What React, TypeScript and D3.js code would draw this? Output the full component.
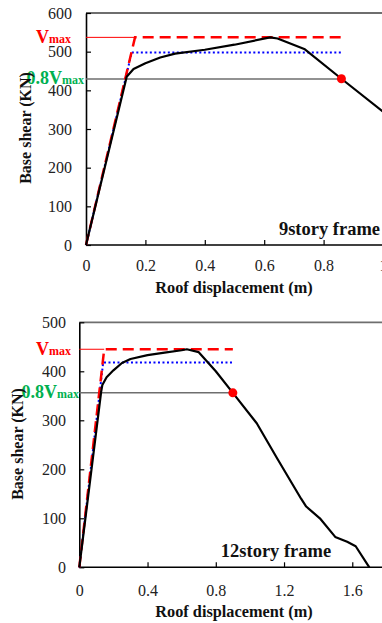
import * as d3 from "d3";
import { useEffect, useRef } from "react";

// 9 story frame
const disp9 = [0, 0.137, 0.16, 0.2, 0.25, 0.3, 0.4, 0.5, 0.62, 0.645, 0.737, 0.86, 1.0];
const shear9 = [0, 435, 455, 470, 485, 495, 505, 518, 537, 534, 506, 430, 345];
const ideal9Red = [[0, 0], [0.165, 537], [0.866, 537]];
const ideal9Blue = [[0, 0], [0.154, 498], [0.866, 498]];
const vmax9 = 537;
const point9 = [0.86, 430];

// 12 story frame
const disp12 = [0, 0.128, 0.135, 0.16, 0.2, 0.25, 0.3, 0.4, 0.5, 0.6, 0.63, 0.7, 0.8, 0.9, 1.04, 1.16, 1.3, 1.33, 1.41, 1.5, 1.57, 1.62, 1.7];
const shear12 = [0, 358, 372, 388, 402, 417, 425, 433, 438, 443, 445, 439, 400, 356, 294, 222, 140, 124, 100, 62, 52, 43, 0];
const ideal12Red = [[0, 0], [0.146, 445], [0.9, 445]];
const ideal12Blue = [[0, 0], [0.14, 418], [0.9, 418]];
const vmax12 = 445;
const point12 = [0.9, 356];

const xTicks9 = [0, 0.2, 0.4, 0.6, 0.8, 1];
const yTicks9 = [0, 100, 200, 300, 400, 500, 600];
const xTicks12 = [0, 0.4, 0.8, 1.2, 1.6];
const yTicks12 = [0, 100, 200, 300, 400, 500];

const FONT = "Times New Roman, Liberation Serif, DejaVu Serif, serif";

type PanelProps = {
    disp: number[];
    shear: number[];
    red: number[][];
    blue: number[][];
    vmax: number;
    point: number[];
    xTicks: number[];
    yTicks: number[];
    xDomain: [number, number];
    yDomain: [number, number];
    xRange: [number, number];
    yRange: [number, number];
    title: string;
    titleX: number;
    titleY: number;
    yTitleX: number;
    yTitleY: number;
    labelRight: number;
    label8Right: number;
    tickLabelRight: number;
    xLabelY: number;
    xTitleY: number;
};

function Panel(p: PanelProps) {
    const ref = useRef<SVGGElement | null>(null);

    useEffect(() => {
        if (!ref.current) return;
        const g = d3.select(ref.current);
        g.selectAll("*").remove();

        const x = d3.scaleLinear().domain(p.xDomain).range(p.xRange);
        const y = d3.scaleLinear().domain(p.yDomain).range(p.yRange);
        const x0 = p.xRange[0];
        const yTop = p.yRange[1];
        const yBot = p.yRange[0];

        // top frame line
        g.append("line")
            .attr("x1", x0).attr("x2", 400)
            .attr("y1", yTop).attr("y2", yTop)
            .attr("stroke", "#6e6e6e").attr("stroke-width", 1.8);

        // y axis
        const yAxis = g.append("g")
            .attr("transform", `translate(${x0},0)`)
            .call(d3.axisLeft(y).tickValues(p.yTicks).tickSize(-5).tickSizeOuter(0).tickFormat((d) => String(d)));
        yAxis.select(".domain").attr("stroke", "#000").attr("stroke-width", 1.6);
        yAxis.selectAll(".tick line").attr("stroke", "#000").attr("stroke-width", 1.2);
        yAxis.selectAll(".tick text")
            .attr("x", p.tickLabelRight - x0)
            .attr("font-family", FONT).attr("font-size", 16).attr("fill", "#222");

        // x axis
        const xAxis = g.append("g")
            .attr("transform", `translate(0,${yBot})`)
            .call(d3.axisBottom(x).tickValues(p.xTicks).tickSize(-5).tickSizeOuter(0).tickFormat((d) => String(d)));
        xAxis.select(".domain").attr("stroke", "#000").attr("stroke-width", 1.6).attr("d", `M${x0},0H400`);
        xAxis.selectAll(".tick line").attr("stroke", "#000").attr("stroke-width", 1.2);
        xAxis.selectAll(".tick text")
            .attr("y", p.xLabelY - yBot).attr("dy", "0.35em")
            .attr("font-family", FONT).attr("font-size", 16).attr("fill", "#222");

        // 0.8 Vmax line to the point
        g.append("line")
            .attr("x1", x0).attr("x2", x(p.point[0]))
            .attr("y1", y(0.8 * p.vmax)).attr("y2", y(0.8 * p.vmax))
            .attr("stroke", "#6e6e6e").attr("stroke-width", 1.5);

        // thin red Vmax line
        g.append("line")
            .attr("x1", x0).attr("x2", x(p.red[1][0]))
            .attr("y1", y(p.vmax)).attr("y2", y(p.vmax))
            .attr("stroke", "#ff0000").attr("stroke-width", 1);

        const line = d3.line<number[]>().x((d) => x(d[0])).y((d) => y(d[1]));

        g.append("path").attr("d", line(p.blue) ?? "")
            .attr("fill", "none").attr("stroke", "#0000ff").attr("stroke-width", 2)
            .attr("stroke-dasharray", "2 2.5");
        g.append("path").attr("d", line(p.red) ?? "")
            .attr("fill", "none").attr("stroke", "#ff0000").attr("stroke-width", 2.5)
            .attr("stroke-dasharray", "11 6");

        const curve = p.disp.map((d, i) => [d, p.shear[i]]);
        g.append("path").attr("d", line(curve) ?? "")
            .attr("fill", "none").attr("stroke", "#000").attr("stroke-width", 2.2)
            .attr("stroke-linejoin", "round");

        g.append("circle")
            .attr("cx", x(p.point[0])).attr("cy", y(p.point[1]))
            .attr("r", 4.5).attr("fill", "#ff0000");

        // labels
        const vm = g.append("text")
            .attr("x", p.labelRight).attr("y", y(p.vmax)).attr("dy", "0.35em")
            .attr("text-anchor", "end").attr("font-family", FONT).attr("font-weight", "bold").attr("fill", "#ff0000");
        vm.append("tspan").attr("font-size", 18).text("V");
        vm.append("tspan").attr("font-size", 12).text("max");

        const v8 = g.append("text")
            .attr("x", p.label8Right).attr("y", y(0.8 * p.vmax)).attr("dy", "0.35em")
            .attr("text-anchor", "end").attr("font-family", FONT).attr("font-weight", "bold").attr("fill", "#00b050");
        v8.append("tspan").attr("font-size", 18).text("0.8V");
        v8.append("tspan").attr("font-size", 12).text("max");

        g.append("text")
            .attr("x", p.titleX).attr("y", p.titleY)
            .attr("text-anchor", "middle").attr("font-family", FONT).attr("font-weight", "bold")
            .attr("font-size", 18.5).attr("fill", "#111").text(p.title);

        g.append("text")
            .attr("x", 234).attr("y", p.xTitleY).attr("dy", "0.35em")
            .attr("text-anchor", "middle").attr("font-family", FONT).attr("font-weight", "bold")
            .attr("font-size", 16.3).attr("fill", "#111").text("Roof displacement (m)");

        g.append("text")
            .attr("transform", `translate(${p.yTitleX},${p.yTitleY}) rotate(-90)`)
            .attr("dy", "0.35em")
            .attr("text-anchor", "middle").attr("font-family", FONT).attr("font-weight", "bold")
            .attr("font-size", 16).attr("fill", "#111").text("Base shear (KN)");
    }, [p]);

    return <g ref={ref} />;
}

export default function App() {
    return (
        <svg width={382} height={623} style={{ position: "absolute", left: 0, top: 0, background: "#fff" }}>
            <Panel
                disp={disp9} shear={shear9} red={ideal9Red} blue={ideal9Blue} vmax={vmax9} point={point9}
                xTicks={xTicks9} yTicks={yTicks9}
                xDomain={[0, 1]} yDomain={[0, 600]} xRange={[86, 383]} yRange={[245, 13]}
                title="9story frame" titleX={329.5} titleY={235}
                yTitleX={25} yTitleY={128} labelRight={71} label8Right={84} tickLabelRight={72}
                xLabelY={265} xTitleY={287}
            />
            <Panel
                disp={disp12} shear={shear12} red={ideal12Red} blue={ideal12Blue} vmax={vmax12} point={point12}
                xTicks={xTicks12} yTicks={yTicks12}
                xDomain={[0, 1.8]} yDomain={[0, 500]} xRange={[79.3, 386.4]} yRange={[567.3, 322.3]}
                title="12story frame" titleX={276} titleY={557}
                yTitleX={17} yTitleY={444} labelRight={71} label8Right={79} tickLabelRight={66}
                xLabelY={590} xTitleY={611}
            />
        </svg>
    );
}
